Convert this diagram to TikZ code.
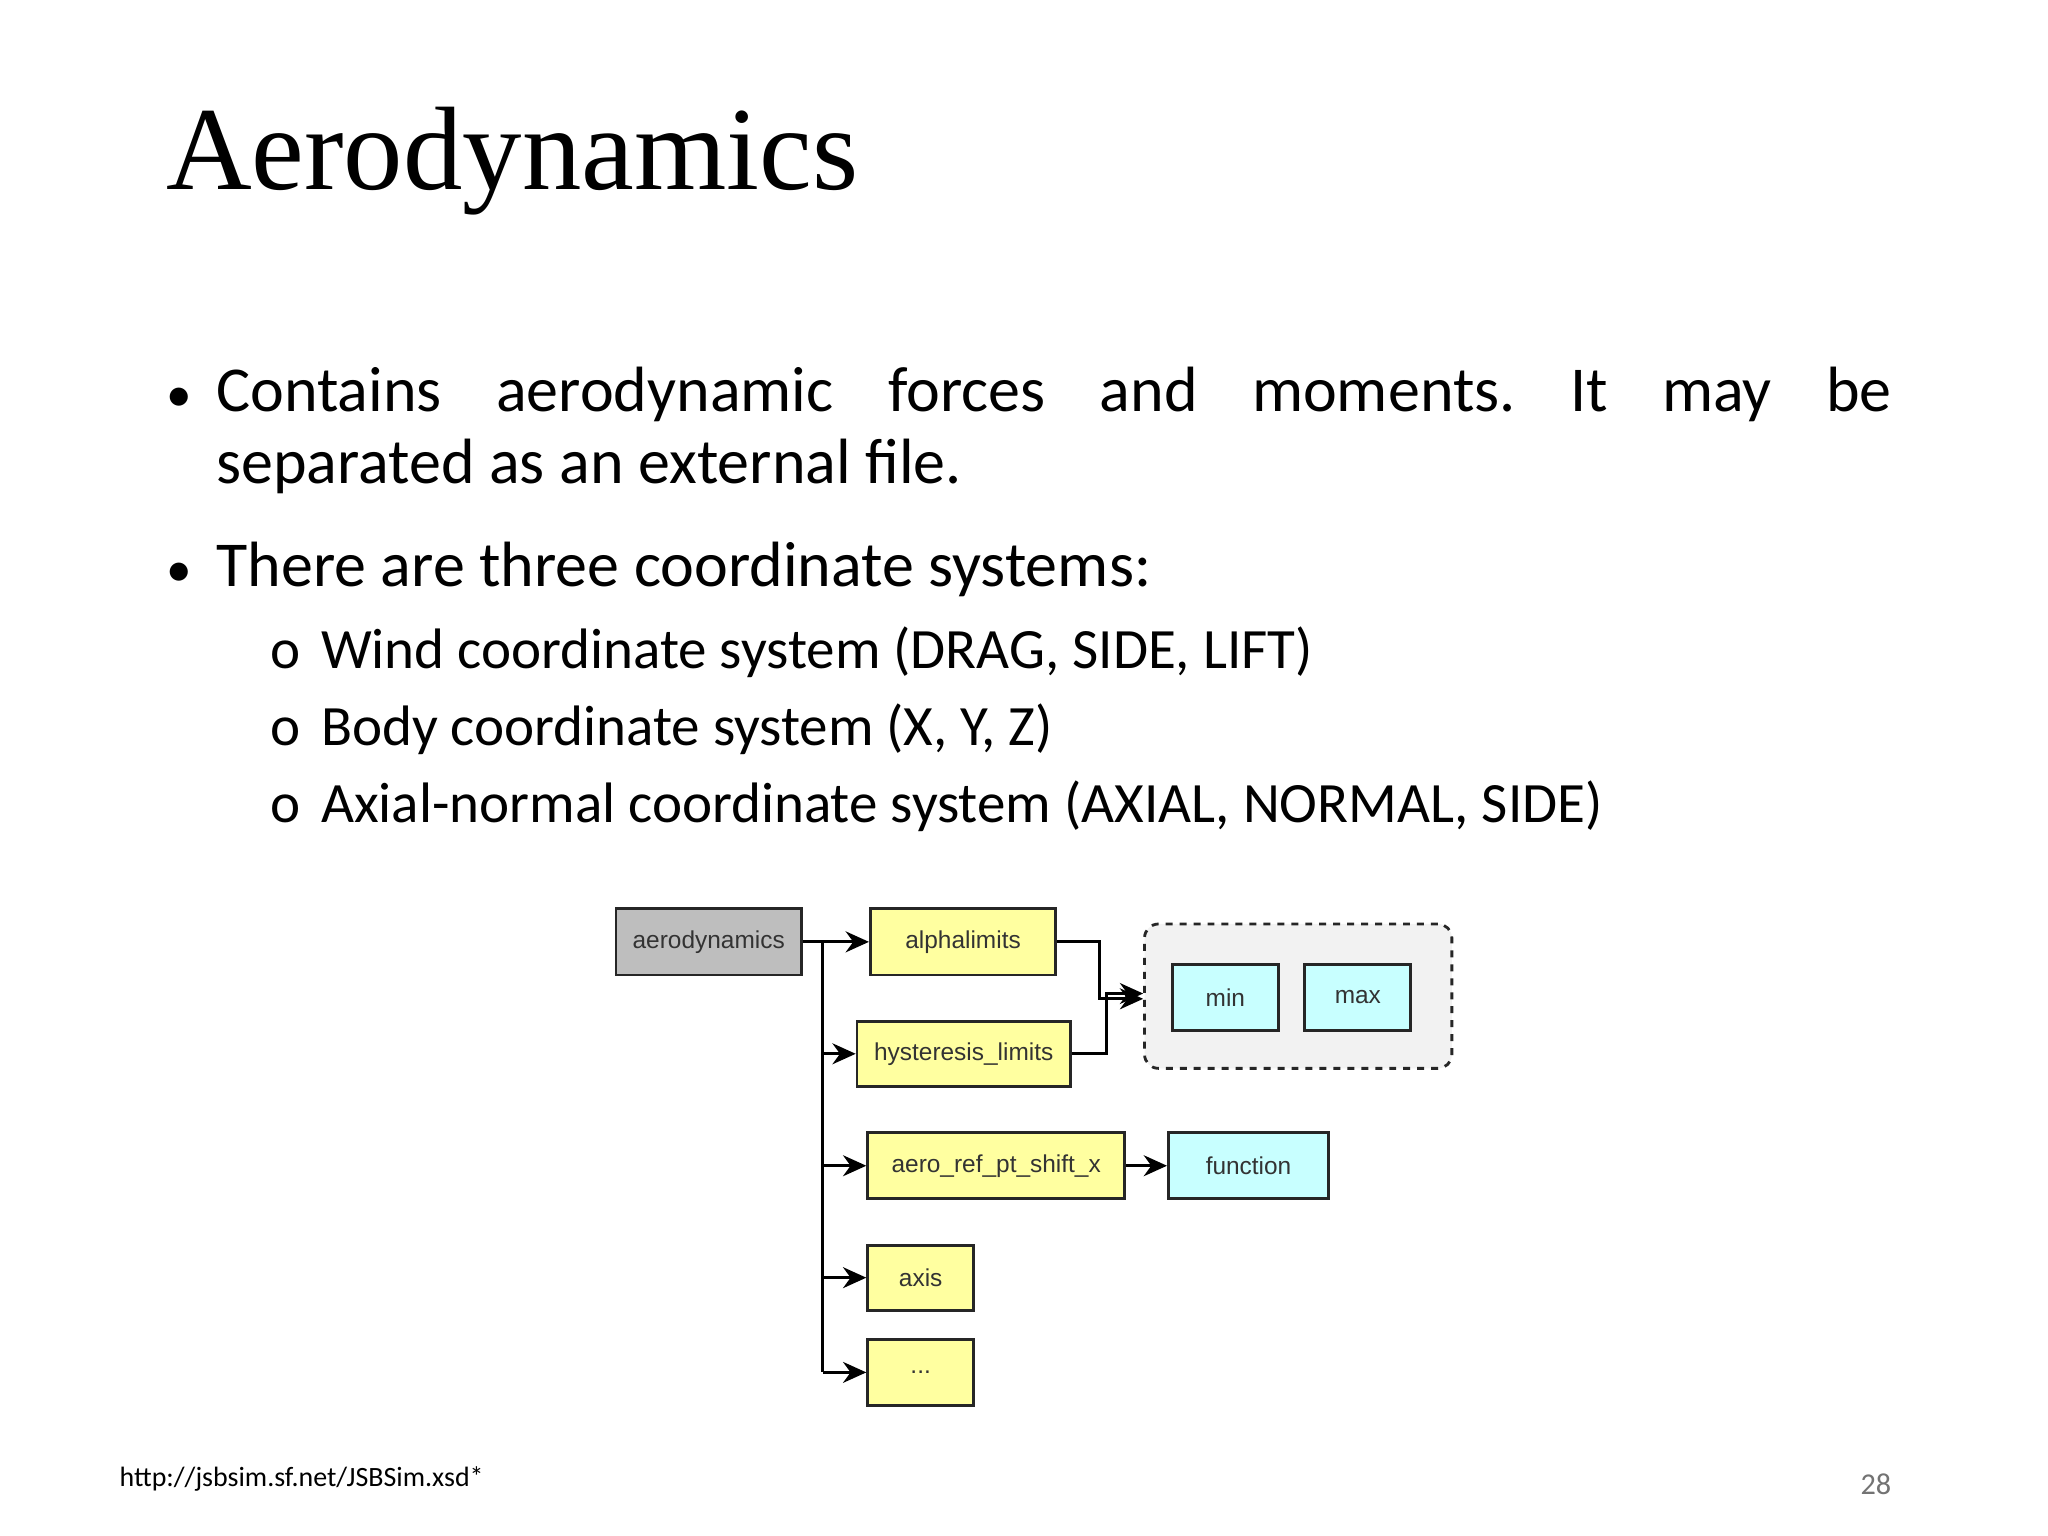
\documentclass[tikz,border=0pt]{standalone}
\usepackage{fontspec}
\setmainfont{Liberation Serif}
\newfontfamily\carlfont{Carlito}
\newfontfamily\ars{Liberation Sans}
\usetikzlibrary{arrows.meta}
\definecolor{ylw}{RGB}{255,255,160}
\definecolor{cyn}{RGB}{200,255,255}
\definecolor{gry}{RGB}{190,190,190}
\tikzset{box/.style={draw=black!85,line width=1.2pt,inner sep=0pt,font=\ars\fontsize{10.5}{12}\selectfont,text=black!80},
arr/.style={line width=1.2pt,-{Stealth[length=10pt,width=9pt]}},
ln/.style={line width=1.2pt}}
\newcommand\bx[7]{\node[box,#6,minimum width={(#4-#2)*0.02cm},minimum height={(#5-#3)*0.02cm}] (#1) at ({(#2+#4)/2},{(#3+#5)/2}) {#7};}
\begin{document}
\begin{tikzpicture}[x=0.02cm,y=-0.02cm]
\useasboundingbox[fill=white] (0,0) rectangle (1546,1159.5);
\node[anchor=base west,inner sep=0pt,font=\fontsize{51}{56}\selectfont] (title) at (125,143) {Aerodynamics};
\begin{scope}[every node/.style={anchor=base west,inner sep=0pt,font=\carlfont\fontsize{27.5}{31}\selectfont}]
\node (b1) at (125,311) {\fontsize{22}{24}\selectfont •};
\node (l1) at (163,311) {\hbox to 25.3cm{Contains\hfill aerodynamic\hfill forces\hfill and\hfill moments.\hfill It\hfill may\hfill be}};
\node (l2) at (163,365) {separated as an external file.};
\node (b2) at (125,443) {\fontsize{22}{24}\selectfont •};
\node (l3) at (163,443) {There are three coordinate systems:};
\end{scope}
\begin{scope}[every node/.style={anchor=base west,inner sep=0pt,font=\carlfont\fontsize{24.5}{28}\selectfont}]
\node (o1) at (204,505) {o};
\node (s1) at (242,505) {Wind coordinate system (DRAG, SIDE, LIFT)};
\node (o2) at (204,563) {o};
\node (s2) at (242,563) {Body coordinate system (X, Y, Z)};
\node (o3) at (204,621) {o};
\node (s3) at (242,621) {Axial-normal coordinate system (AXIAL, NORMAL, SIDE)};
\end{scope}
\node[anchor=base west,inner sep=0pt,font=\carlfont\fontsize{12}{12}\selectfont] (url) at (90,1122) {http://jsbsim.sf.net/JSBSim.xsd*};
\node[anchor=base east,inner sep=0pt,text=black!55,font=\carlfont\fontsize{13}{14}\selectfont] (pg) at (1428,1128) {28};
% diagram
\node[draw=black!85,dashed,line width=1.2pt,fill=black!5,rounded corners=6pt,minimum width={232*0.02cm},minimum height={109*0.02cm}] (grp) at (980,752) {};
\bx{aero}{465}{686}{605}{736}{fill=gry}{aerodynamics}
\bx{alpha}{657}{686}{797}{736}{fill=ylw}{alphalimits}
\bx{hyst}{647}{771}{808}{820}{fill=ylw}{hysteresis\_limits}
\bx{shift}{655}{855}{849}{905}{fill=ylw}{aero\_ref\_pt\_shift\_x}
\bx{func}{882}{855}{1003}{905}{fill=cyn}{function}
\bx{axis}{655}{940}{735}{989}{fill=ylw}{axis}
\bx{dots}{655}{1011}{735}{1061}{fill=ylw}{...}
\bx{min}{885}{728}{965}{778}{fill=cyn}{min}
\bx{max}{985}{728}{1065}{778}{fill=cyn}{max}
\coordinate (tt) at (621,711);
\coordinate (tb) at (621,1036);
\draw[ln] (aero.east) -- (tt) -- (tb);
\draw[arr] (aero.east) -- (alpha.west);
\draw[arr] (621,795.5) -- (hyst.west);
\draw[arr] (621,880) -- (shift.west);
\draw[arr] (621,964.5) -- (axis.west);
\draw[arr] (tb) -- (dots.west);
\draw[arr] (shift.east) -- (func.west);
\draw[arr] (alpha.east) -- (830,711) -- (830,754) -- (grp.west|-0,754);
\draw[arr] (hyst.east) -- (835,795.5) -- (835,750) -- (grp.west|-0,750);
\end{tikzpicture}
\end{document}
